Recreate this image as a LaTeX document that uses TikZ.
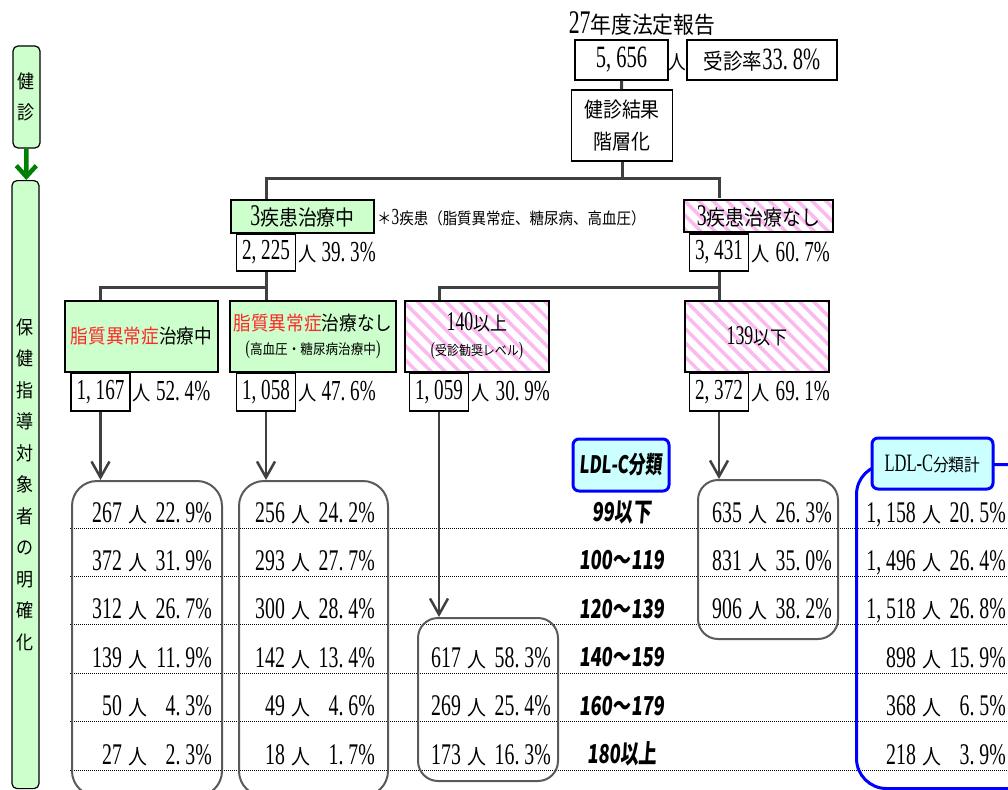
\documentclass[tikz,border=0pt]{standalone}
\usepackage{fontspec}
\setmainfont{Liberation Serif}[FakeStretch=0.66]
\newfontfamily\jp{Noto Sans CJK JP}[Scale=0.7,FakeStretch=0.9]
\newfontfamily\ldl{Noto Sans CJK JP}[FakeStretch=0.7,FakeSlant=0.08]
\usetikzlibrary{arrows.meta,patterns.meta}
\definecolor{boxgreen}{RGB}{204,255,204}
\definecolor{stripe}{RGB}{250,185,240}
\definecolor{boxcyan}{RGB}{204,255,255}
\definecolor{lipred}{RGB}{255,40,40}
\definecolor{conngray}{RGB}{64,64,64}
\definecolor{groupgray}{RGB}{90,90,90}
\definecolor{arrowgreen}{RGB}{0,128,0}
\newcommand{\sz}[1]{\fontsize{#1}{#1}\selectfont}
% comma and point set in a full digit cell
\newcommand{\cm}{\makebox[0pt][l]{,}\hphantom{0}}
\newcommand{\pd}{\makebox[0pt][l]{.}\hphantom{0}}
\def\splitpct#1.#2\relax{#1\pd#2}
\newcommand{\cnt}[3][30pt]{\makebox[#1][r]{#2}\hspace{7pt}{\jp 人}\hspace{6pt}\makebox[58pt][r]{\expandafter\splitpct#3\relax\%}}
\begin{document}
\begin{tikzpicture}[x=1pt,y=-1pt,
  box/.style={draw,line width=1.5pt,inner sep=0pt,align=center},
  count box/.style={box,minimum width=59pt,minimum height=37pt,font=\sz{29}},
  pct/.style={anchor=west,inner sep=2pt,font=\sz{29}},
  green box/.style={box,fill=boxgreen},
  pink box/.style={box,pattern={Lines[angle=-45,distance=10pt,line width=3.5pt]},pattern color=stripe},
  side box/.style={draw,line width=1.2pt,fill=boxgreen,rounded corners=5pt,inner sep=0pt,align=center,font=\fontsize{27}{31.5}\selectfont\jp},
  group/.style={draw=groupgray,line width=2pt,rounded corners=#1,anchor=north west,inner sep=0pt},
  label box/.style={draw=blue,line width=3pt,fill=boxcyan,rounded corners=6pt,inner sep=0pt},
  conn/.style={draw=conngray,line width=3pt},
  arrow/.style={conn,line width=2.5pt,-{Straight Barb[length=16pt,width=18pt]}},
  val/.style={anchor=east,inner sep=0pt,text height=20pt,text depth=0pt,font=\sz{30}},
  cat/.style={inner sep=0pt,text height=19pt,text depth=0pt,font=\sz{26}\ldl\bfseries},
  rowline/.style={densely dotted,line width=1pt}]

\useasboundingbox (0,0) rectangle (1008,789);

% left column
\node[side box,minimum width=27pt,minimum height=102pt] (kenshin) at (26.5,97) {健\\診};
\node[side box,minimum width=27pt,minimum height=608pt,anchor=north] (taisho) at (25.5,180)
  {保\\健\\指\\導\\対\\象\\者\\の\\明\\確\\化};
\draw[line width=4.5pt,arrowgreen,-{Straight Barb[length=11pt,width=20pt]}] (kenshin) -- (taisho);

% top
\node[font=\sz{33}] (title) at (642,24) {27{\jp 年度法定報告}};
\node[box,minimum width=93pt,minimum height=40pt,font=\sz{31}] (total) at (621.5,60) {5\cm656};
\node[font=\sz{28}\jp,inner sep=0pt] (nin) at (677,62) {人};
\node[box,minimum width=150pt,minimum height=40pt,font=\sz{31}] (rate) at (762,60) {{\jp 受診率}33\pd8\%};
\node[box,minimum width=101pt,minimum height=71pt,font=\fontsize{30}{32}\selectfont\jp] (kekka) at (622,125.5) {健診結果\\階層化};

% 3 diseases
\node[green box,minimum width=143pt,minimum height=33pt,font=\sz{30}] (chiryo) at (302.5,216.5) {3{\jp 疾患治療中}};
\node[anchor=west,font=\sz{23},inner sep=0pt] (note) at (377,218) {{\jp ＊}3{\jp 疾患（脂質異常症、糖尿病、高血圧）}};
\node[pink box,minimum width=149pt,minimum height=32pt,font=\sz{30}] (nashi) at (758.5,216) {3{\jp 疾患治療なし}};
\node[count box] (n2225) at (266,252.5) {2\cm225};
\node[pct] (p2225) at (n2225.east) {{\jp 人} 39\pd3\%};
\node[count box] (n3431) at (719,252.5) {3\cm431};
\node[pct] (p3431) at (n3431.east) {{\jp 人}\hspace{6pt}60\pd7\%};

\coordinate (top) at (622,178);
\draw[conn] (total) -- (kekka);
\draw[conn] (kekka) -- (top);
\draw[conn] (chiryo.north -| n2225) |- (top) -| (nashi.north -| n3431);

% second level
\node[green box,minimum width=153pt,minimum height=71pt,font=\sz{28}\jp] (lipid) at (141.5,336.5) {\textcolor{lipred}{脂質異常症}治療中};
\node[green box,minimum width=166pt,minimum height=71pt,font=\fontsize{20}{24}\selectfont] (nolip) at (313,336.5)
  {{\sz{28}\jp\textcolor{lipred}{脂質異常症}治療なし}\\({\jp 高血圧・糖尿病治療中})};
\node[pink box,minimum width=144pt,minimum height=71pt,font=\fontsize{19}{25}\selectfont] (over) at (477,336.5)
  {{\sz{27}140{\jp 以上}}\\({\jp 受診勧奨レベル})};
\node[pink box,minimum width=144pt,minimum height=71pt,font=\sz{27}] (under) at (757,336.5) {139{\jp 以下}};

\node[count box,minimum height=38pt] (n1167) at (100.5,392) {1\cm167};
\node[pct] (p1167) at (n1167.east) {{\jp 人} 52\pd4\%};
\node[count box,minimum height=38pt] (n1058) at (266,392) {1\cm058};
\node[pct] (p1058) at (n1058.east) {{\jp 人} 47\pd6\%};
\node[count box,minimum height=38pt] (n1059) at (439,392) {1\cm059};
\node[pct] (p1059) at (n1059.east) {{\jp 人}\hspace{6pt}30\pd9\%};
\node[count box,minimum height=38pt] (n2372) at (719,392) {2\cm372};
\node[pct] (p2372) at (n2372.east) {{\jp 人}\hspace{6pt}69\pd1\%};

\coordinate (jl) at (266,287);
\coordinate (jr) at (719,287);
\draw[conn] (n2225) -- (n2225 |- nolip.north);
\draw[conn] (lipid.north -| n1167) |- (jl);
\draw[conn] (n3431) -- (n3431 |- under.north);
\draw[conn] (over.north -| n1059) |- (jr);

% table rows
\foreach \i in {0,...,5}
  \draw[rowline] (70,{528+48.4*\i}) -- (1008,{528+48.4*\i});

\node[group=25pt,minimum width=150pt,minimum height=315pt] (g1) at (71,480) {};
\node[group=25pt,minimum width=149pt,minimum height=315pt] (g2) at (238,480) {};
\node[group=20pt,minimum width=140pt,minimum height=163pt] (g3) at (417,617) {};
\node[group=20pt,minimum width=140pt,minimum height=159pt] (g4) at (697,479) {};
\node[group=30pt,draw=blue,line width=3pt,minimum width=200pt,minimum height=324pt] (g5) at (855,463) {};

\draw[arrow] (n1167) -- (n1167 |- g1.north);
\draw[arrow] (n1058) -- (n1058 |- g2.north);
\draw[arrow] (n1059) -- (n1059 |- g3.north);
\draw[arrow] (n2372) -- (n2372 |- g4.north);

\node[label box,minimum width=96pt,minimum height=52pt,font=\sz{24}\ldl\bfseries] (ldl) at (621,465) {LDL-C分類};
\node[label box,minimum width=121pt,minimum height=51pt,font=\sz{25}] (ldlsum) at (932.5,463.5) {LDL-C{\jp 分類計}};

\foreach \lab [count=\i from 0] in {99以下,100～119,120～139,140～159,160～179,180以上}
  \node[cat] (c\i) at (622,{512+48.4*\i}) {\lab};

\foreach \n/\p [count=\i from 0] in {267/22.9,372/31.9,312/26.7,139/11.9,50/4.3,27/2.3}
  \node[val] (a\i) at (212,{512+48.4*\i}) {\cnt{\n}{\p}};
\foreach \n/\p [count=\i from 0] in {256/24.2,293/27.7,300/28.4,142/13.4,49/4.6,18/1.7}
  \node[val] (b\i) at (375,{512+48.4*\i}) {\cnt{\n}{\p}};
\foreach \n/\p [count=\i from 3] in {617/58.3,269/25.4,173/16.3}
  \node[val] (d\i) at (551,{512+48.4*\i}) {\cnt{\n}{\p}};
\foreach \n/\p [count=\i from 0] in {635/26.3,831/35.0,906/38.2}
  \node[val] (e\i) at (832,{512+48.4*\i}) {\cnt{\n}{\p}};
\foreach \n/\p [count=\i from 0] in {1\cm158/20.5,1\cm496/26.4,1\cm518/26.8,898/15.9,368/6.5,218/3.9}
  \node[val] (s\i) at (1006,{512+48.4*\i}) {\cnt[50pt]{\n}{\p}};
\end{tikzpicture}
\end{document}
